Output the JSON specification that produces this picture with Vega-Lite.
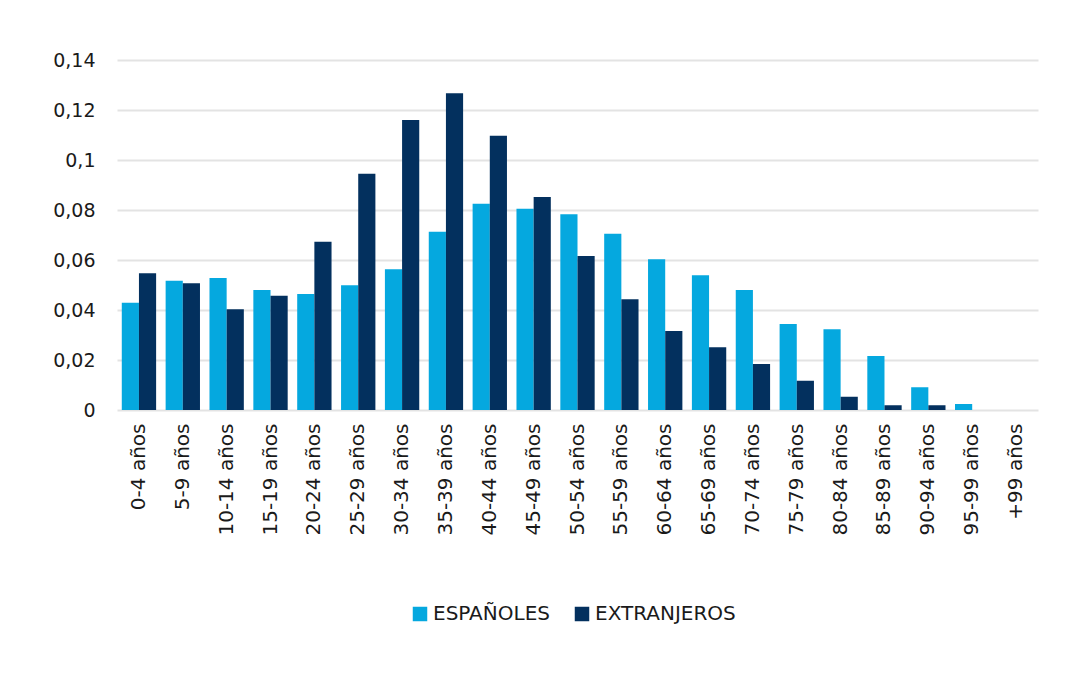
{
  "$schema": "https://vega.github.io/schema/vega-lite/v6.json",
  "autosize": "none",
  "width": 921,
  "height": 350,
  "padding": {"left": 117, "top": 60, "right": 40, "bottom": 263},
  "background": "white",
  "data": {
    "values": [
      {"grupo": "0-4 años", "serie": "ESPAÑOLES", "valor": 0.0429},
      {"grupo": "0-4 años", "serie": "EXTRANJEROS", "valor": 0.0547},
      {"grupo": "5-9 años", "serie": "ESPAÑOLES", "valor": 0.0517},
      {"grupo": "5-9 años", "serie": "EXTRANJEROS", "valor": 0.0507},
      {"grupo": "10-14 años", "serie": "ESPAÑOLES", "valor": 0.0528},
      {"grupo": "10-14 años", "serie": "EXTRANJEROS", "valor": 0.0403},
      {"grupo": "15-19 años", "serie": "ESPAÑOLES", "valor": 0.048},
      {"grupo": "15-19 años", "serie": "EXTRANJEROS", "valor": 0.0457},
      {"grupo": "20-24 años", "serie": "ESPAÑOLES", "valor": 0.0464},
      {"grupo": "20-24 años", "serie": "EXTRANJEROS", "valor": 0.0673},
      {"grupo": "25-29 años", "serie": "ESPAÑOLES", "valor": 0.0499},
      {"grupo": "25-29 años", "serie": "EXTRANJEROS", "valor": 0.0945},
      {"grupo": "30-34 años", "serie": "ESPAÑOLES", "valor": 0.0563},
      {"grupo": "30-34 años", "serie": "EXTRANJEROS", "valor": 0.116},
      {"grupo": "35-39 años", "serie": "ESPAÑOLES", "valor": 0.0713},
      {"grupo": "35-39 años", "serie": "EXTRANJEROS", "valor": 0.1267},
      {"grupo": "40-44 años", "serie": "ESPAÑOLES", "valor": 0.0825},
      {"grupo": "40-44 años", "serie": "EXTRANJEROS", "valor": 0.1097},
      {"grupo": "45-49 años", "serie": "ESPAÑOLES", "valor": 0.0805},
      {"grupo": "45-49 años", "serie": "EXTRANJEROS", "valor": 0.0852},
      {"grupo": "50-54 años", "serie": "ESPAÑOLES", "valor": 0.0783},
      {"grupo": "50-54 años", "serie": "EXTRANJEROS", "valor": 0.0616},
      {"grupo": "55-59 años", "serie": "ESPAÑOLES", "valor": 0.0705},
      {"grupo": "55-59 años", "serie": "EXTRANJEROS", "valor": 0.0443},
      {"grupo": "60-64 años", "serie": "ESPAÑOLES", "valor": 0.0603},
      {"grupo": "60-64 años", "serie": "EXTRANJEROS", "valor": 0.0316},
      {"grupo": "65-69 años", "serie": "ESPAÑOLES", "valor": 0.0539},
      {"grupo": "65-69 años", "serie": "EXTRANJEROS", "valor": 0.0251},
      {"grupo": "70-74 años", "serie": "ESPAÑOLES", "valor": 0.048},
      {"grupo": "70-74 años", "serie": "EXTRANJEROS", "valor": 0.0184},
      {"grupo": "75-79 años", "serie": "ESPAÑOLES", "valor": 0.0344},
      {"grupo": "75-79 años", "serie": "EXTRANJEROS", "valor": 0.0117},
      {"grupo": "80-84 años", "serie": "ESPAÑOLES", "valor": 0.0323},
      {"grupo": "80-84 años", "serie": "EXTRANJEROS", "valor": 0.0053},
      {"grupo": "85-89 años", "serie": "ESPAÑOLES", "valor": 0.0216},
      {"grupo": "85-89 años", "serie": "EXTRANJEROS", "valor": 0.0019},
      {"grupo": "90-94 años", "serie": "ESPAÑOLES", "valor": 0.0091},
      {"grupo": "90-94 años", "serie": "EXTRANJEROS", "valor": 0.0019},
      {"grupo": "95-99 años", "serie": "ESPAÑOLES", "valor": 0.0024},
      {"grupo": "95-99 años", "serie": "EXTRANJEROS", "valor": 0},
      {"grupo": "+99 años", "serie": "ESPAÑOLES", "valor": 0},
      {"grupo": "+99 años", "serie": "EXTRANJEROS", "valor": 0}
    ]
  },
  "mark": {"type": "bar"},
  "encoding": {
    "x": {
      "field": "grupo",
      "type": "nominal",
      "sort": null,
      "scale": {"paddingInner": 0.217, "paddingOuter": 0.109},
      "axis": {
        "title": null,
        "labelAngle": -90,
        "labelPadding": 13,
        "ticks": false,
        "domain": false,
        "labelFont": "DejaVu Sans",
        "labelFontSize": 20,
        "labelColor": "#1a1a1a"
      }
    },
    "xOffset": {"field": "serie", "type": "nominal", "scale": {"paddingInner": 0, "paddingOuter": 0}},
    "y": {
      "field": "valor",
      "type": "quantitative",
      "scale": {"domain": [0, 0.14], "nice": false},
      "axis": {
        "title": null,
        "values": [0, 0.02, 0.04, 0.06, 0.08, 0.1, 0.12, 0.14],
        "labelExpr": "replace(format(datum.value, '~g'), '.', ',')",
        "domain": false,
        "ticks": false,
        "labelPadding": 22,
        "labelFont": "DejaVu Sans",
        "labelFontSize": 19,
        "labelColor": "#1a1a1a",
        "gridColor": "#E3E3E3",
        "gridWidth": 2
      }
    },
    "color": {
      "field": "serie",
      "type": "nominal",
      "scale": {"domain": ["ESPAÑOLES", "EXTRANJEROS"], "range": ["#05A8DF", "#03305E"]},
      "legend": {
        "title": null,
        "orient": "none",
        "legendX": 293,
        "legendY": 544,
        "direction": "horizontal",
        "symbolType": "square",
        "symbolSize": 210,
        "symbolStrokeWidth": 0,
        "labelFont": "DejaVu Sans",
        "labelFontSize": 20,
        "labelColor": "#1a1a1a",
        "labelOffset": 3,
        "columnPadding": 22
      }
    }
  },
  "config": {"view": {"stroke": null}}
}
